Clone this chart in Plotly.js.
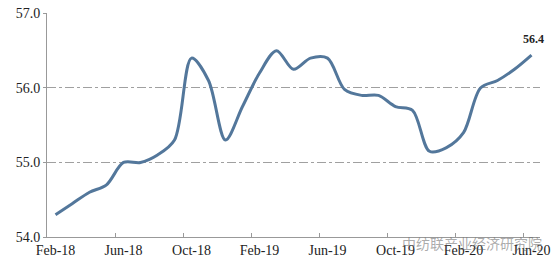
<!DOCTYPE html>
<html>
<head>
<meta charset="utf-8">
<script src="https://cdn.plot.ly/plotly-3.0.1.min.js"></script>
<style>html,body{margin:0;padding:0;background:#fff;}#chart{width:556px;height:270px;}</style>
</head>
<body>
<div id="chart"></div>
<script>
const months = ["Feb-18","Mar-18","Apr-18","May-18","Jun-18","Jul-18","Aug-18","Sep-18","Oct-18","Nov-18","Dec-18","Jan-19",
  "Feb-19","Mar-19","Apr-19","May-19","Jun-19","Jul-19","Aug-19","Sep-19","Oct-19","Nov-19","Dec-19","Jan-20",
  "Feb-20","Mar-20","Apr-20","May-20","Jun-20"];
const values = [54.3,54.45,54.6,54.7,55.0,55.0,55.1,55.3,56.4,56.1,55.3,55.75,
  56.2,56.5,56.25,56.4,56.4,55.98,55.9,55.9,55.75,55.7,55.15,55.2,
  55.4,56.0,56.1,56.25,56.44];
const lastLabel = "56.4";
const watermark = "中纺联产业经济研究院";

const trace = {
  x: months, y: values, type: "scatter", mode: "lines",
  line: {color: "#53779b", width: 3, shape: "spline", smoothing: 0.9},
  hoverinfo: "skip"
};
const serif = "Liberation Serif";
const layout = {
  width: 556, height: 270,
  margin: {l: 47, r: 16, t: 13, b: 33},
  paper_bgcolor: "#fff", plot_bgcolor: "#fff",
  showlegend: false,
  font: {family: serif, size: 14, color: "#222"},
  xaxis: {
    type: "category", range: [-0.5, 28.5], dtick: 4, tickson: "boundaries",
    tickangle: 0, automargin: false,
    ticks: "inside", ticklen: 4, tickcolor: "#999", tickwidth: 1,
    showline: true, linecolor: "#999", linewidth: 1,
    showgrid: false, zeroline: false, fixedrange: true,
    tickfont: {family: serif, size: 14, color: "#222"}
  },
  yaxis: {
    range: [54, 57.005], tickvals: [54, 55, 56, 57], ticktext: ["54.0", "55.0", "56.0", "57.0"],
    ticks: "outside", ticklen: 3, tickcolor: "#999",
    showline: true, linecolor: "#999", linewidth: 1,
    showgrid: true, gridcolor: "#a0a0a0", griddash: "dashdot", gridwidth: 1,
    zeroline: false, fixedrange: true,
    tickfont: {family: serif, size: 14, color: "#222"}
  },
  annotations: [
    {x: months[months.length-1], y: values[values.length-1], xref: "x", yref: "y",
     text: "<b>" + lastLabel + "</b>", showarrow: false, yshift: 16, xshift: 2,
     font: {family: serif, size: 12, color: "#222"}},
    {x: (472-47)/493, y: (237-243)/223, xref: "paper", yref: "paper",
     xanchor: "center", yanchor: "middle",
     text: watermark, showarrow: false,
     font: {family: "Noto Sans CJK SC", size: 14, color: "rgba(100,100,100,0.55)"}}
  ]
};
Plotly.newPlot("chart", [trace], layout, {staticPlot: true, displayModeBar: false});
</script>
</body>
</html>
